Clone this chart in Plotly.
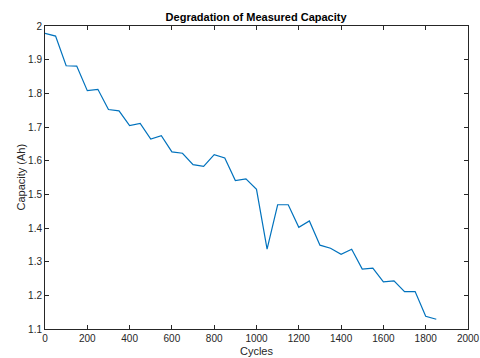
import plotly.graph_objects as go

cycles = [0, 50, 100, 150, 200, 250, 300, 350, 400, 450, 500, 550, 600, 650, 700, 750,
          800, 850, 900, 950, 1000, 1050, 1100, 1150, 1200, 1250, 1300, 1350, 1400, 1450,
          1500, 1550, 1600, 1650, 1700, 1750, 1800, 1850]
capacity = [1.978, 1.970, 1.882, 1.881, 1.808, 1.812, 1.752, 1.748, 1.704, 1.711,
            1.664, 1.674, 1.626, 1.622, 1.588, 1.583, 1.618, 1.608, 1.541, 1.546,
            1.515, 1.337, 1.469, 1.469, 1.402, 1.421, 1.349, 1.340, 1.322, 1.337,
            1.278, 1.281, 1.240, 1.243, 1.211, 1.211, 1.138, 1.129]

font = "Liberation Sans, Arial, Helvetica, sans-serif"
axcol = "#262626"

fig = go.Figure()
fig.add_trace(go.Scatter(x=cycles, y=capacity, mode="lines",
                         line=dict(color="#0072BD", width=1.2), showlegend=False))

common = dict(showgrid=False, zeroline=False, showline=True, linecolor=axcol, linewidth=1,
              mirror="ticks", ticks="inside", ticklen=4, tickwidth=1, tickcolor=axcol,
              automargin=False,
              tickfont=dict(family=font, size=10, color=axcol))

fig.update_layout(
    width=480, height=358,
    margin=dict(l=45, r=12, t=26, b=29),
    paper_bgcolor="white", plot_bgcolor="white",
    title=dict(text="<b>Degradation of Measured Capacity</b>", x=0.5335, xanchor="center",
               y=0.953, yanchor="middle", automargin=False,
               font=dict(family=font, size=11, color="black")),
    xaxis=dict(range=[0, 2000], dtick=200, tick0=0,
               title=dict(text="Cycles", standoff=4, font=dict(family=font, size=11, color=axcol)),
               **common),
    yaxis=dict(range=[1.1, 2.0], dtick=0.1, tick0=1.1, **common),
    annotations=[dict(text="Capacity (Ah)", textangle=-90, xref="paper", yref="paper",
                      x=0, y=0.5, xanchor="center", yanchor="middle", xshift=-25,
                      showarrow=False, font=dict(family=font, size=11, color=axcol))],
)

fig.write_html("out.html", config={"displayModeBar": False},
               post_script="document.body.style.margin='0';document.body.style.overflow='hidden';")
